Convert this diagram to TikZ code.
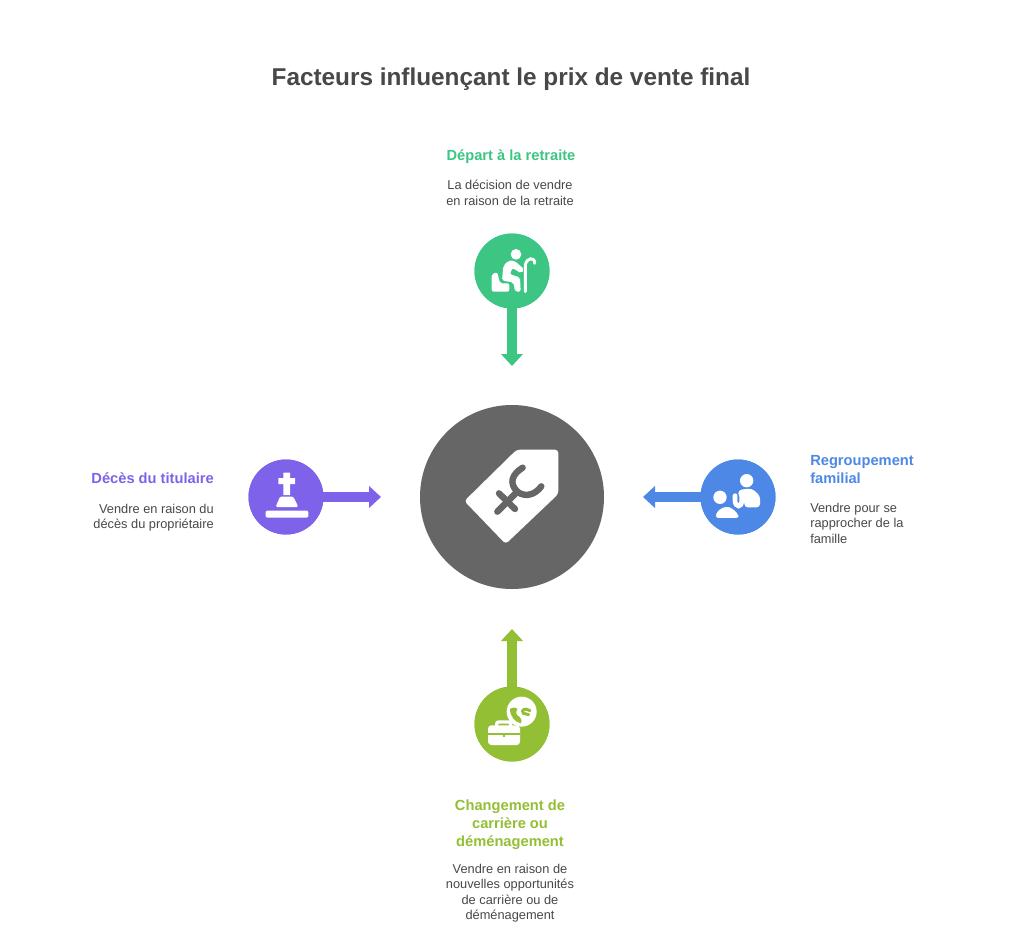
\documentclass[tikz,border=0pt]{standalone}
\usepackage{fontspec}
\setmainfont{Liberation Sans}
\usetikzlibrary{arrows.meta}
\definecolor{cgreen}{HTML}{3CC583}
\definecolor{cviolet}{HTML}{7E62E9}
\definecolor{cblue}{HTML}{4E88E7}
\definecolor{colive}{HTML}{93BF35}
\definecolor{cdark}{HTML}{666666}
\definecolor{ctext}{HTML}{484848}
\tikzset{
  x=0.75pt,y=-0.75pt,
  disc/.style={circle,minimum size=56.25pt,inner sep=0pt,draw=none,fill=#1},
  conn/.style={draw=#1,line width=7.5pt,-{Triangle[length=9pt,width=16pt]}},
  head/.style={font=\fontsize{11pt}{13.5pt}\selectfont\bfseries,inner sep=0pt,text=#1},
  body/.style={font=\fontsize{9.6pt}{11.5pt}\selectfont,inner sep=0pt,text=ctext},
}
\begin{document}
\begin{tikzpicture}
\useasboundingbox (0,0) rectangle (1024,935);
\fill[white] (0,0) rectangle (1024,935);
\node[font=\fontsize{18.25pt}{22pt}\selectfont\bfseries,text=ctext,inner sep=0pt] (title) at (511,79) {Facteurs influençant le prix de vente final};
% centre
\node[circle,minimum size=138pt,inner sep=0pt,fill=cdark] (hub) at (512,497) {};
\begin{scope}[shift={(410,395)},scale=1/3]
\fill[white,rounded corners=2.5pt] (320,164) -- (445,164) -- (445,297) -- (287,447) -- (163,318) -- cycle;
\draw[cdark,line width=4.8pt,line cap=round,line join=round] (338,218) .. controls (306,238) and (296,264) .. (322,290) .. controls (345,308) and (375,300) .. (394,274);
\draw[cdark,line width=4.8pt,line cap=round] (267,295) -- (315,342);
\draw[cdark,line width=4.8pt,line cap=round] (262,350) -- (322,290);
\end{scope}
% discs
\node[disc=cgreen] (a) at (512,271) {};
\node[disc=cviolet] (b) at (286,497) {};
\node[disc=cblue] (c) at (738,497) {};
\node[disc=colive] (d) at (512,724) {};
\coordinate (atip) at (512,366);
\coordinate (btip) at (381,497);
\coordinate (ctip) at (643,497);
\coordinate (dtip) at (512,629);
\draw[conn=cgreen] (a.center) -- (atip);
\draw[conn=cviolet] (b.center) -- (btip);
\draw[conn=cblue] (c.center) -- (ctip);
\draw[conn=colive] (d.center) -- (dtip);
\node[disc=cgreen] at (a) {};
\node[disc=cviolet] at (b) {};
\node[disc=cblue] at (c) {};
\node[disc=colive] at (d) {};
% retirement icon
\begin{scope}[shift={(480,240)},scale=1/3]
\fill[white] (108,43) circle (16);
\fill[white,rounded corners=1.5pt] (35,155) -- (35,102) -- (52,97) -- (60,130) -- (88,130) -- (88,155) -- cycle;
\fill[white,rounded corners=1.5pt] (66,122) -- (70,78) -- (85,62) -- (103,62) -- (133,88) -- (124,100) -- (97,84) -- (90,103) -- (120,112) -- (122,155) -- (105,155) -- (100,127) -- cycle;
\draw[white,line width=2.2pt,line cap=round] (136,155) -- (136,75) .. controls (140,52) and (165,50) .. (164,70);
\end{scope}
% grave icon
\begin{scope}[shift={(240,450)},scale=1/3]
\fill[white] (130,68) -- (150,68) -- (150,84) -- (165,84) -- (165,102) -- (150,102) -- (150,135) -- (130,135) -- (130,102) -- (115,102) -- (115,84) -- (130,84) -- cycle;
\fill[white,rounded corners=1pt] (120,140) -- (160,140) -- (175,171) -- (107,171) -- cycle;
\fill[white,rounded corners=1pt] (77,182) rectangle (205,203);
\end{scope}
% family icon
\begin{scope}[shift={(705,465)},scale=1/3]
\fill[white] (125,47) circle (20);
\fill[white,rounded corners=2.5pt] (100,75) -- (140,70) -- (165,92) -- (165,127) -- (118,127) -- (118,105) -- (100,95) -- cycle;
\draw[white,line width=3.5pt,line cap=round] (90,92) -- (90,108) .. controls (92,128) and (110,128) .. (110,108) -- (110,85);
\fill[white] (45,97) circle (20);
\draw[cblue,line width=1.2pt,fill=white,rounded corners=3pt] (28,162) -- (32,138) -- (62,120) -- (85,128) -- (105,150) -- (105,162) -- cycle;
\end{scope}
% career icon
\begin{scope}[shift={(480,690)},scale=1/3]
\fill[white] (125,65) circle (45);
\fill[colive] (90,56) .. controls (98,52) and (108,50) .. (112,58) .. controls (106,68) and (108,75) .. (120,82) .. controls (126,88) and (126,94) .. (122,100) .. controls (105,96) and (90,80) .. (90,56) -- cycle;
\draw[colive,line width=2.2pt,line cap=round] (150,62) .. controls (135,52) and (122,60) .. (130,70) -- (146,74);
\draw[white,line width=2.5pt,rounded corners=1.5pt] (50,112) -- (50,96) -- (92,96) -- (92,112);
\fill[white,rounded corners=2.5pt] (24,106) rectangle (120,165);
\draw[colive,line width=1.2pt] (24,132) -- (120,132);
\fill[colive] (69,132) rectangle (75,142);
\end{scope}
% texts
\node[head=cgreen] (h1) at (511,157) {Départ à la retraite};
\node[body,align=center,anchor=north] (t1) at (510,180) {La décision de vendre\\en raison de la retraite};
\node[head=cviolet,anchor=east] (h2) at (214,478) {Décès du titulaire};
\node[body,align=right,anchor=north east] (t2) at (214,504) {Vendre en raison du\\décès du propriétaire};
\node[head=cblue,align=left,anchor=north west] (h3) at (810,455) {Regroupement\\familial};
\node[body,align=left,anchor=north west] (t3) at (810,503) {Vendre pour se\\rapprocher de la\\famille};
\node[head=colive,align=center,anchor=north] (h4) at (510,799.5) {Changement de\\carrière ou\\déménagement};
\node[body,align=center,anchor=north] (t4) at (510,864) {Vendre en raison de\\nouvelles opportunités\\de carrière ou de\\déménagement};
\end{tikzpicture}
\end{document}
